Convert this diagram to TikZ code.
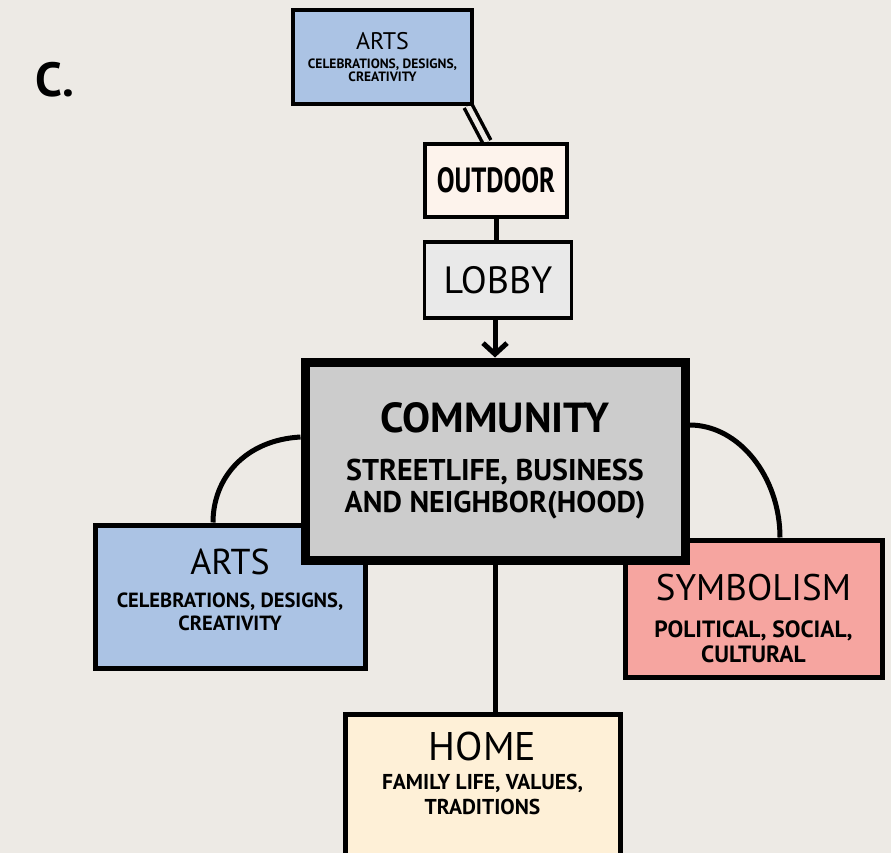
\documentclass[tikz,border=0pt]{standalone}
\usepackage{fontspec}
\setmainfont{PT Sans}
\usetikzlibrary{arrows.meta,backgrounds}
\definecolor{paper}{HTML}{EDEAE5}
\definecolor{artsblue}{HTML}{ABC3E4}
\definecolor{outdoorfill}{HTML}{FDF3EC}
\definecolor{lobbyfill}{HTML}{E9E9E9}
\definecolor{communityfill}{HTML}{CCCCCC}
\definecolor{symbolfill}{HTML}{F6A5A0}
\definecolor{homefill}{HTML}{FEF0D7}
\newcommand{\fsz}[2]{\fontsize{#1}{#2}\selectfont}
\tikzset{
    box/.style = {draw=black, rectangle, line width=5pt, inner sep=0pt, align=center},
    link/.style = {draw=black, line width=5pt},
}

\begin{document}
\begin{tikzpicture}[x=1pt, y=-1pt]
\useasboundingbox (0,0) rectangle (891,853);
\node[font=\bfseries\fsz{48}{48}] (letter) at (55,80) {C.};
\node[box, line width=4pt, fill=artsblue, minimum width=179pt, minimum height=94pt, font=\bfseries\fsz{13.5}{13}] (artstop) at (382.5,57) {{\mdseries\fsz{24}{24}ARTS}\\[6pt] CELEBRATIONS, DESIGNS,\\ CREATIVITY};
\node[box, line width=4pt, fill=outdoorfill, minimum width=142pt, minimum height=73pt, font=\bfseries\fsz{28}{28}] (outdoor) at (496,180.5) {\scalebox{0.95}[1.25]{OUTDOOR}};
\node[box, line width=3.5pt, fill=lobbyfill, minimum width=147pt, minimum height=76pt, font=\fsz{38}{38}] (lobby) at (498,280) {LOBBY};
\node[box, fill=artsblue, minimum width=270pt, minimum height=143pt, font=\bfseries\fsz{20.5}{23}] (artsleft) at (230,596.5) {{\mdseries\fsz{36}{36}ARTS}\\[10pt] CELEBRATIONS, DESIGNS,\\ CREATIVITY\rule[-14pt]{0pt}{0pt}};
\node[box, fill=symbolfill, minimum width=257pt, minimum height=137pt, font=\bfseries\fsz{23.5}{25}] (symbolism) at (753.5,608.5) {{\mdseries\fsz{37}{37}\rule{0pt}{46pt}SYMBOLISM}\\[12pt] POLITICAL, SOCIAL,\\ CULTURAL};
\node[box, fill=homefill, anchor=north, minimum width=275pt, inner ysep=18pt, text depth=50pt, font=\bfseries\fsz{21.5}{25}] (home) at (482.5,712) {{\mdseries\fsz{40}{40}HOME}\\[4pt] FAMILY LIFE, VALUES,\\ TRADITIONS};
\node[box, line width=9pt, fill=communityfill, minimum width=380pt, minimum height=198pt, font=\bfseries\fsz{30}{32}] (community) at (495,461) {{\fsz{42}{42}COMMUNITY}\\[16pt] STREETLIFE, BUSINESS\\ AND NEIGHBOR(HOOD)};

\begin{scope}[on background layer]
\fill[paper] (0,0) rectangle (891,853);
\draw[link, line width=3.5pt, double=paper, double distance=5pt] ([xshift=-6pt]artstop.south east) -- ([xshift=-9pt]outdoor.north);
\draw[link] (outdoor.south) -- (outdoor.south |- lobby.north);
\draw[link, -{Straight Barb[length=11pt, width=24pt]}] (community.north |- lobby.south) -- (community.north);
\draw[link] (community.south) -- (community.south |- home.north);
\draw[link] ([yshift=24pt]community.west) .. controls +(-55,3) and +(0,-45) .. ([xshift=-17pt]artsleft.north);
\draw[link] ([yshift=36pt]community.east) .. controls +(50,0) and +(0,-60) .. ([xshift=26.5pt]symbolism.north);
\end{scope}
\end{tikzpicture}
\end{document}
